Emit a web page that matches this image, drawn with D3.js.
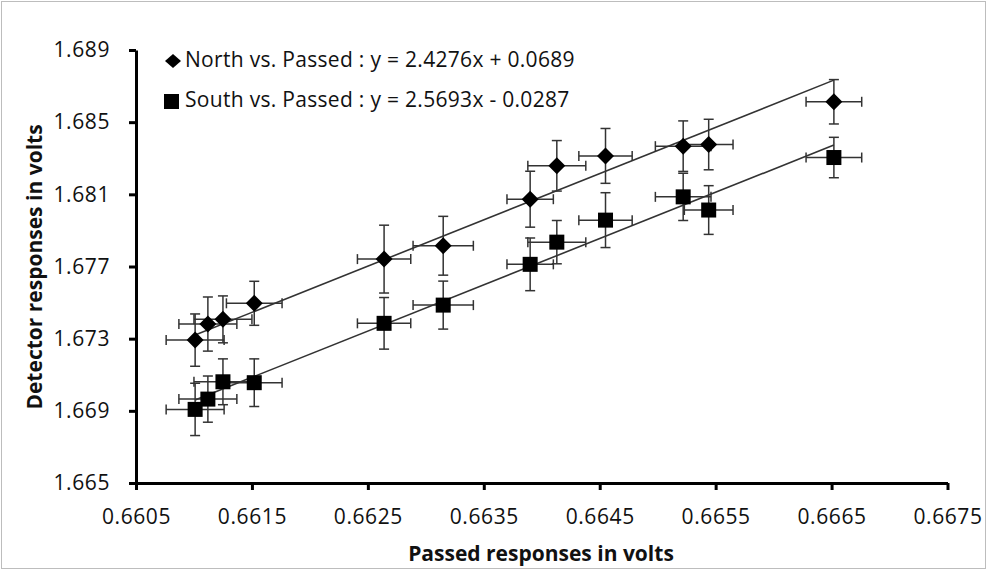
<!DOCTYPE html>
<html>
<head>
<meta charset="utf-8">
<script src="https://cdn.jsdelivr.net/npm/d3@7"></script>
<style>
  body { margin: 0; background: #fff; }
  svg text { font-family: "Open Sans", "DejaVu Sans", sans-serif; fill: #111; }
</style>
</head>
<body>
<div id="chart"></div>
<script>
// Passed responses (x) shared by both series, with their x error
var passed    = [0.66101, 0.66112, 0.66125, 0.66152, 0.66264, 0.66315, 0.66390, 0.66413, 0.66455, 0.66522, 0.66544, 0.66652];
var passedErr = [0.00025, 0.00025, 0.00025, 0.00024, 0.00023, 0.00026, 0.00020, 0.00025, 0.00023, 0.00024, 0.00021, 0.00024];

// Detector responses
var north    = [1.67292, 1.67381, 1.67407, 1.67496, 1.67741, 1.67815, 1.68073, 1.68258, 1.68313, 1.68367, 1.68376, 1.68613];
var northErr = [0.00145, 0.00150, 0.00130, 0.00122, 0.00188, 0.00163, 0.00155, 0.00140, 0.00152, 0.00140, 0.00140, 0.00123];
var south    = [1.66908, 1.66965, 1.67061, 1.67056, 1.67385, 1.67486, 1.67712, 1.67835, 1.67957, 1.68086, 1.68013, 1.68304];
var southErr = [0.00145, 0.00128, 0.00127, 0.00132, 0.00143, 0.00133, 0.00146, 0.00120, 0.00152, 0.00131, 0.00135, 0.00112];

// Trend lines as drawn (end points)
var northFit = [[0.66101, 1.67320], [0.66652, 1.68733]];
var southFit = [[0.66101, 1.66960], [0.66652, 1.68373]];

var xTicks = [0.6605, 0.6615, 0.6625, 0.6635, 0.6645, 0.6655, 0.6665, 0.6675];
var yTicks = [1.665, 1.669, 1.673, 1.677, 1.681, 1.685, 1.689];

var legendLabels = ["North vs. Passed : y = 2.4276x + 0.0689", "South vs. Passed : y = 2.5693x - 0.0287"];

var width = 988, height = 572;

var svg = d3.select("#chart").append("svg")
	.attr("width", width)
	.attr("height", height);

//outer frame
svg.append("rect")
	.attr("x", 1.5).attr("y", 1.5)
	.attr("width", width - 4).attr("height", height - 5)
	.style("fill", "none")
	.style("stroke", "#bdbdbd")
	.style("stroke-width", 1);

var x = d3.scaleLinear().domain([0.6605, 0.6675]).range([136, 947.5]);
var y = d3.scaleLinear().domain([1.665, 1.689]).range([483, 50]);

///////////////////////////////////////////////////////////////////////////
///////////////////////////////// Axes ////////////////////////////////////
///////////////////////////////////////////////////////////////////////////

var yAxis = svg.append("g")
	.attr("transform", "translate(" + x(0.6605) + ",0)")
	.call(d3.axisLeft(y).tickValues(yTicks).tickSize(7).tickSizeOuter(0).tickPadding(19).tickFormat(d3.format(".3f")));

var xAxis = svg.append("g")
	.attr("transform", "translate(0," + y(1.665) + ")")
	.call(d3.axisBottom(x).tickValues(xTicks).tickSize(7).tickSizeOuter(0).tickFormat(d3.format(".4f")));

[xAxis, yAxis].forEach(function(a) {
	a.select(".domain").style("stroke", "#000").style("stroke-width", 3);
	a.selectAll(".tick line").style("stroke", "#000").style("stroke-width", 3);
	a.selectAll(".tick text")
		.style("font-size", "21px")
		.style("letter-spacing", "0.6px")
		.style("fill", "#111");
});
xAxis.selectAll(".tick text").attr("y", 41).attr("dy", 0);

//axis titles
svg.append("text")
	.attr("x", 541)
	.attr("y", 561)
	.style("text-anchor", "middle")
	.style("font-size", "21px")
	.style("font-weight", "bold")
	.text("Passed responses in volts");

svg.append("text")
	.attr("transform", "translate(42,267) rotate(-90)")
	.style("text-anchor", "middle")
	.style("font-size", "21px")
	.style("font-weight", "bold")
	.text("Detector responses in volts");

///////////////////////////////////////////////////////////////////////////
//////////////////////////// Trend lines //////////////////////////////////
///////////////////////////////////////////////////////////////////////////

var line = d3.line().x(function(d) { return x(d[0]); }).y(function(d) { return y(d[1]); });

[northFit, southFit].forEach(function(f) {
	svg.append("path")
		.attr("d", line(f))
		.style("fill", "none")
		.style("stroke", "#333")
		.style("stroke-width", 1.6);
});

///////////////////////////////////////////////////////////////////////////
//////////////////////////// Error bars ///////////////////////////////////
///////////////////////////////////////////////////////////////////////////

var cap = 5;
function errorBars(vals, errs) {
	var g = svg.append("g").style("stroke", "#333").style("stroke-width", 1.5);
	passed.forEach(function(px, i) {
		var cx = x(px), cy = y(vals[i]);
		var x0 = x(px - passedErr[i]), x1 = x(px + passedErr[i]);
		var y0 = y(vals[i] - errs[i]), y1 = y(vals[i] + errs[i]);
		g.append("line").attr("x1", x0).attr("x2", x1).attr("y1", cy).attr("y2", cy);
		g.append("line").attr("x1", x0).attr("x2", x0).attr("y1", cy - cap).attr("y2", cy + cap);
		g.append("line").attr("x1", x1).attr("x2", x1).attr("y1", cy - cap).attr("y2", cy + cap);
		g.append("line").attr("x1", cx).attr("x2", cx).attr("y1", y0).attr("y2", y1);
		g.append("line").attr("x1", cx - cap).attr("x2", cx + cap).attr("y1", y0).attr("y2", y0);
		g.append("line").attr("x1", cx - cap).attr("x2", cx + cap).attr("y1", y1).attr("y2", y1);
	});
}
errorBars(north, northErr);
errorBars(south, southErr);

///////////////////////////////////////////////////////////////////////////
////////////////////////////// Markers ////////////////////////////////////
///////////////////////////////////////////////////////////////////////////

function diamond(cx, cy, rx, ry) {
	return "M" + cx + "," + (cy - ry) + "L" + (cx + rx) + "," + cy + "L" + cx + "," + (cy + ry) + "L" + (cx - rx) + "," + cy + "Z";
}

svg.append("g").selectAll("path")
	.data(north)
	.enter().append("path")
	.attr("d", function(d, i) { return diamond(x(passed[i]), y(d), 8.5, 8.5); })
	.style("fill", "#000");

svg.append("g").selectAll("rect")
	.data(south)
	.enter().append("rect")
	.attr("x", function(d, i) { return x(passed[i]) - 7.5; })
	.attr("y", function(d) { return y(d) - 7.5; })
	.attr("width", 15)
	.attr("height", 15)
	.style("fill", "#000");

///////////////////////////////////////////////////////////////////////////
////////////////////////////// Legend /////////////////////////////////////
///////////////////////////////////////////////////////////////////////////

var legend = svg.append("g");
legend.append("path").attr("d", diamond(173, 61, 8, 7)).style("fill", "#000");
legend.append("rect").attr("x", 164).attr("y", 94).attr("width", 15).attr("height", 15).style("fill", "#000");
legend.selectAll("text")
	.data(legendLabels)
	.enter().append("text")
	.attr("x", 185)
	.attr("y", function(d, i) { return 67 + i * 40; })
	.style("font-size", "21px")
	.style("letter-spacing", "0.3px")
	.text(function(d) { return d; });
</script>
</body>
</html>
